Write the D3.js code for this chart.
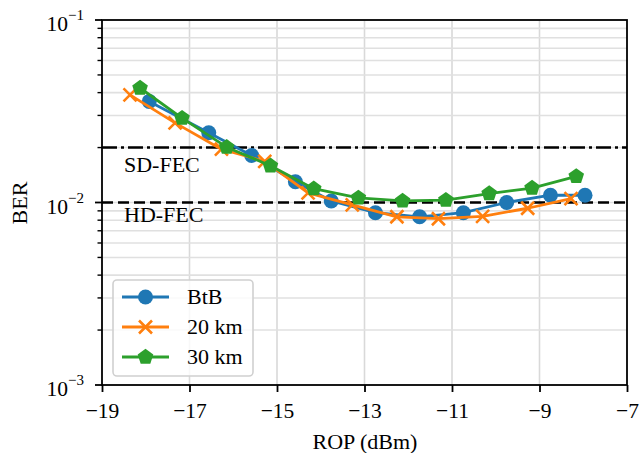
<!DOCTYPE html>
<html>
<head>
<meta charset="utf-8">
<script src="https://cdn.jsdelivr.net/npm/d3@7"></script>
<style>
  html, body { margin: 0; padding: 0; background: #fff; }
  svg { display: block; }
  text { font-family: "Liberation Serif", "Times New Roman", serif; fill: #000; }
</style>
</head>
<body>
<svg id="chart" width="639" height="453"></svg>
<script>
// ---- data ----
const btbX  = [-17.92, -16.56, -15.58, -14.58, -13.76, -12.75, -11.74, -10.74, -9.75, -8.75, -7.96];
const btbY  = [0.0358, 0.0241, 0.0181, 0.0130, 0.0102, 0.00879, 0.00835, 0.00879, 0.0100, 0.01096, 0.01096];
const km20X = [-18.36, -17.33, -16.27, -15.28, -14.29, -13.28, -12.26, -11.31, -10.30, -9.27, -8.28];
const km20Y = [0.0389, 0.0273, 0.0196, 0.0168, 0.0113, 0.00971, 0.00835, 0.00815, 0.0084, 0.0093, 0.0105];
const km30X = [-18.13, -17.17, -16.15, -15.15, -14.16, -13.14, -12.13, -11.14, -10.15, -9.17, -8.16];
const km30Y = [0.0424, 0.0290, 0.0201, 0.0159, 0.0119, 0.0106, 0.0102, 0.0103, 0.0112, 0.0120, 0.0139];
const seriesNames = ["BtB", "20 km", "30 km"];
const xTicks = [-19, -17, -15, -13, -11, -9, -7];
const yDecades = [1e-3, 1e-2, 1e-1];
const yTickExps = ["−3", "−2", "−1"];
const fecNames = ["SD-FEC", "HD-FEC"];
const fecValues = [2e-2, 1e-2];

// ---- layout ----
const L = 102, R = 627, T = 20, B = 385;
const svg = d3.select("#chart");
const x = d3.scaleLinear().domain([-19, -7]).range([L, R]);
const y = d3.scaleLog().domain([1e-3, 1e-1]).range([B, T]);
const colors = ["#1f77b4", "#ff7f0e", "#2ca02c"];
const FS = 22;

// minor log ticks
const minorY = [];
[1e-3, 1e-2].forEach(d => { for (let k = 2; k <= 9; k++) minorY.push(d * k); });

// grid
const grid = svg.append("g");
grid.selectAll(".vg").data(xTicks.slice(1, -1)).enter().append("line")
  .attr("x1", d => x(d)).attr("x2", d => x(d)).attr("y1", T).attr("y2", B)
  .attr("stroke", "#d9d9d9").attr("stroke-width", 1.6);
grid.selectAll(".hg").data(minorY.concat([1e-2])).enter().append("line")
  .attr("x1", L).attr("x2", R).attr("y1", d => y(d)).attr("y2", d => y(d))
  .attr("stroke", "#e0e0e0").attr("stroke-width", 1.6);

// FEC lines
const dashes = ["15,4,3,4", "11,5"];
fecValues.forEach((v, i) => {
  svg.append("line").attr("x1", L).attr("x2", R).attr("y1", y(v)).attr("y2", y(v))
    .attr("stroke", "#000").attr("stroke-width", 2.4).attr("stroke-dasharray", dashes[i]);
});
svg.append("text").attr("x", 124).attr("y", 172).attr("font-size", FS).text(fecNames[0]);
svg.append("text").attr("x", 124).attr("y", 222).attr("font-size", FS).text(fecNames[1]);

// markers
const R0 = 7.5;
function drawMarker(g, i, cx, cy) {
  if (i === 0) {
    g.append("circle").attr("cx", cx).attr("cy", cy).attr("r", R0).attr("fill", colors[0]);
  } else if (i === 1) {
    const s = 6.5;
    g.append("path").attr("d", `M${cx - s},${cy - s}L${cx + s},${cy + s}M${cx - s},${cy + s}L${cx + s},${cy - s}`)
      .attr("stroke", colors[1]).attr("stroke-width", 2.6).attr("fill", "none");
  } else {
    const r = 8.2;
    const pts = d3.range(5).map(k => {
      const a = -Math.PI / 2 + k * 2 * Math.PI / 5;
      return [cx + r * Math.cos(a), cy + r * Math.sin(a)];
    });
    g.append("path").attr("d", "M" + pts.map(p => p.join(",")).join("L") + "Z").attr("fill", colors[2]);
  }
}

const series = [[btbX, btbY], [km20X, km20Y], [km30X, km30Y]];
const line = d3.line().x(d => x(d[0])).y(d => y(d[1]));
series.forEach((s, i) => {
  const pts = s[0].map((v, j) => [v, s[1][j]]);
  const g = svg.append("g");
  g.append("path").datum(pts).attr("d", line).attr("fill", "none")
    .attr("stroke", colors[i]).attr("stroke-width", 2.8).attr("stroke-linejoin", "round");
  pts.forEach(p => drawMarker(g, i, x(p[0]), y(p[1])));
});

// spines
svg.append("rect").attr("x", L).attr("y", T).attr("width", R - L).attr("height", B - T)
  .attr("fill", "none").attr("stroke", "#000").attr("stroke-width", 1.8);

// x axis
const xAxis = svg.append("g").attr("transform", `translate(0,${B})`)
  .call(d3.axisBottom(x).tickValues(xTicks).tickSize(7).tickPadding(11)
    .tickFormat(d => d < 0 ? "−" + Math.abs(d) : d));
xAxis.select(".domain").remove();
xAxis.selectAll("line").attr("stroke", "#000").attr("stroke-width", 1.8);
xAxis.selectAll("text").attr("font-size", 21.5);

// y axis ticks
const yAxis = svg.append("g");
yAxis.selectAll(".maj").data(yDecades).enter().append("line")
  .attr("x1", L - 7).attr("x2", L).attr("y1", d => y(d)).attr("y2", d => y(d))
  .attr("stroke", "#000").attr("stroke-width", 1.8);
yAxis.selectAll(".min").data(minorY).enter().append("line")
  .attr("x1", L - 4.5).attr("x2", L).attr("y1", d => y(d)).attr("y2", d => y(d))
  .attr("stroke", "#000").attr("stroke-width", 1.4);
yDecades.forEach((d, i) => {
  const t = yAxis.append("text").attr("x", 84).attr("y", y(d) + 11).attr("text-anchor", "end")
    .attr("font-size", 21.5);
  t.append("tspan").text("10");
  t.append("tspan").attr("dy", -11).attr("font-size", 15).text(yTickExps[i]);
});

// axis labels
svg.append("text").attr("x", 365).attr("y", 449).attr("text-anchor", "middle")
  .attr("font-size", FS).text("ROP (dBm)");
svg.append("text").attr("transform", "translate(27,203) rotate(-90)").attr("text-anchor", "middle")
  .attr("font-size", FS).text("BER");

// legend
const lg = svg.append("g");
lg.append("rect").attr("x", 113).attr("y", 280).attr("width", 140).attr("height", 96).attr("rx", 4)
  .attr("fill", "#fff").attr("fill-opacity", 0.8).attr("stroke", "#d0d0d0").attr("stroke-width", 1.6);
seriesNames.forEach((name, i) => {
  const yy = 297 + i * 30;
  lg.append("line").attr("x1", 122).attr("x2", 169).attr("y1", yy).attr("y2", yy)
    .attr("stroke", colors[i]).attr("stroke-width", 2.8);
  drawMarker(lg, i, 145.5, yy);
  lg.append("text").attr("x", 187).attr("y", yy + 7).attr("font-size", FS).text(name);
});
</script>
</body>
</html>
